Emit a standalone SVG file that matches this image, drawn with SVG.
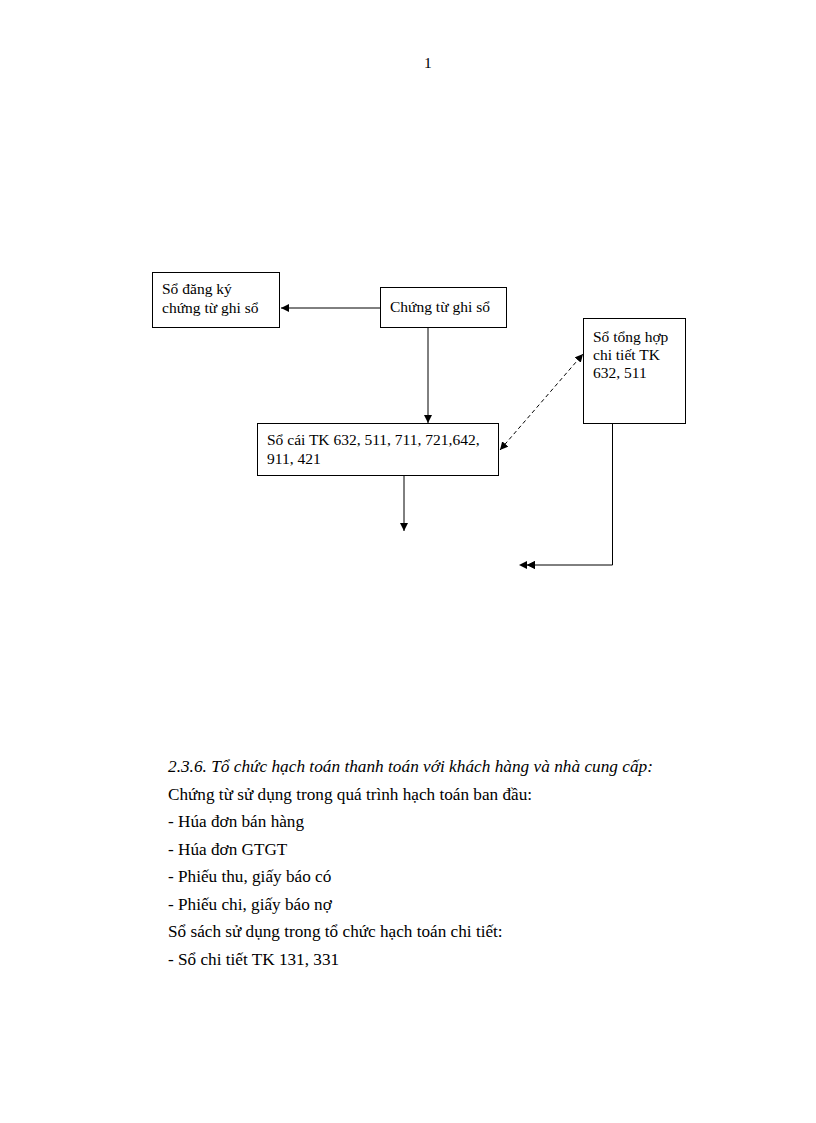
<svg xmlns="http://www.w3.org/2000/svg" width="816" height="1123" viewBox="0 0 816 1123">
<style>
  .box{fill:#fff;stroke:#000;stroke-width:1}
  .t{font-family:"Liberation Serif","Times New Roman",serif;font-size:15.5px;fill:#000}
  .b{font-family:"Liberation Serif","Times New Roman",serif;font-size:17.2px;fill:#000}
  .c{stroke:#000;stroke-width:1;fill:none}
</style>
<defs>
  <marker id="ah" viewBox="0 0 10 10" refX="10" refY="5" markerWidth="8" markerHeight="8" markerUnits="userSpaceOnUse" orient="auto-start-reverse">
    <path d="M0,0 L10,5 L0,10 Z" fill="#000"/>
  </marker>
</defs>
<rect width="816" height="1123" fill="#fff"/>
<text class="t" x="424" y="68">1</text>

<g id="connectors">
  <line class="c" x1="380" y1="308" x2="281" y2="308" marker-end="url(#ah)"/>
  <line class="c" x1="428" y1="327" x2="428" y2="423" marker-end="url(#ah)"/>
  <line class="c" x1="500" y1="450" x2="583" y2="354" stroke-dasharray="4,3" marker-start="url(#ah)" marker-end="url(#ah)"/>
  <line class="c" x1="404" y1="475" x2="404" y2="531" marker-end="url(#ah)"/>
  <polyline class="c" points="612.5,423 612.5,565 527,565" marker-end="url(#ah)"/>
  <path d="M527,565 L535,561 L535,569 Z" fill="#000"/>
  <path d="M519,565 L527,561 L527,569 Z" fill="#000"/>
</g>

<g id="node-so-dang-ky">
  <rect class="box" x="152.5" y="272.5" width="127" height="55"/>
  <text class="t" x="162" y="294">Sổ đăng  ký</text>
  <text class="t" x="162" y="313">chứng từ ghi  sổ</text>
</g>
<g id="node-chung-tu">
  <rect class="box" x="380.5" y="287.5" width="126" height="40"/>
  <text class="t" x="390" y="312">Chứng từ ghi  sổ</text>
</g>
<g id="node-so-cai">
  <rect class="box" x="257.5" y="423.5" width="241" height="52"/>
  <text class="t" x="267" y="445">Sổ cái TK 632, 511, 711, 721,642,</text>
  <text class="t" x="267" y="464">911, 421</text>
</g>
<g id="node-so-tong-hop">
  <rect class="box" x="583.5" y="318.5" width="102" height="105"/>
  <text class="t" x="593" y="342">Sổ tổng  hợp</text>
  <text class="t" x="593" y="360">chi tiết TK</text>
  <text class="t" x="593" y="378">632, 511</text>
</g>

<g id="body-text">
  <text class="b" x="168" y="772" font-style="italic" textLength="485" lengthAdjust="spacingAndGlyphs">2.3.6. Tổ chức hạch toán thanh toán với khách hàng và nhà cung cấp:</text>
  <text class="b" x="168" y="800">Chứng  từ sử dụng trong quá trình hạch toán ban  đầu:</text>
  <text class="b" x="168" y="827">- Húa  đơn bán hàng</text>
  <text class="b" x="168" y="855">- Húa  đơn GTGT</text>
  <text class="b" x="168" y="882">- Phiếu thu, giấy báo  có</text>
  <text class="b" x="168" y="910">- Phiếu chi, giấy báo nợ</text>
  <text class="b" x="168" y="937">Sổ sách sử dụng trong tổ chức hạch toán chi tiết:</text>
  <text class="b" x="168" y="965">- Sổ chi tiết TK  131, 331</text>
</g>
</svg>
